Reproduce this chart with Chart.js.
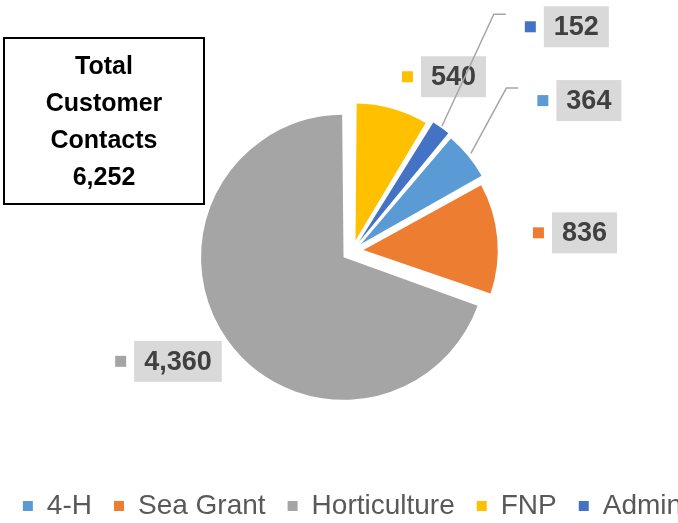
<!DOCTYPE html>
<html>
<head>
<meta charset="utf-8">
<script src="https://cdn.jsdelivr.net/npm/chart.js@4.4.0/dist/chart.umd.min.js"></script>
<style>
    html, body { margin: 0; padding: 0; background: #fff; overflow: hidden; }
    #wrap { width: 678px; height: 523px; overflow: hidden; }
</style>
</head>
<body>
<div id="wrap"><canvas id="contactsPie" width="705" height="530"></canvas></div>
<script>
var programs = ['4-H', 'Sea Grant', 'Horticulture', 'FNP', 'Admin'];
var contacts = [364, 836, 4360, 540, 152];
var sliceColors = ['#5b9bd5', '#ed7d31', '#a5a5a5', '#ffc000', '#4472c4'];
var totalLines = ['Total', 'Customer', 'Contacts'];

// where each value label sits, relative to the outer middle of its slice
var labelShift = [
    { dx: 128, dy: -61, leader: true },
    { dx: 92, dy: -6, leader: false },
    { dx: -60, dy: 29, leader: false },
    { dx: 63, dy: -39, leader: false },
    { dx: 142, dy: -110, leader: true }
];

var fontFamily = '"Liberation Sans", Arial, sans-serif';

var labelsPlugin = {
    id: 'sliceLabels',
    afterDatasetsDraw: function (chart) {
        var ctx = chart.ctx;
        var meta = chart.getDatasetMeta(0);
        ctx.save();
        ctx.font = 'bold 27px ' + fontFamily;
        ctx.textAlign = 'center';
        ctx.textBaseline = 'middle';
        meta.data.forEach(function (arc, i) {
            var mid = (arc.startAngle + arc.endAngle) / 2;
            var r = arc.outerRadius + 9;
            var cx = arc.x + Math.cos(mid) * r + labelShift[i].dx;
            var cy = arc.y + Math.sin(mid) * r + labelShift[i].dy;
            var text = contacts[i].toLocaleString('en-US');
            var w = ctx.measureText(text).width + 20;
            var h = 41;
            var left = cx - w / 2;
            var top = cy - h / 2;

            if (labelShift[i].leader) {
                var sr = arc.outerRadius + 22;
                var ex = left - 38;
                var ey = top + 8;
                ctx.beginPath();
                ctx.moveTo(arc.x + Math.cos(mid) * sr, arc.y + Math.sin(mid) * sr);
                ctx.lineTo(ex - 12, ey);
                ctx.lineTo(ex, ey);
                ctx.strokeStyle = '#a6a6a6';
                ctx.lineWidth = 1.5;
                ctx.stroke();
            }

            ctx.fillStyle = '#d9d9d9';
            ctx.fillRect(left, top, w, h);
            ctx.fillStyle = sliceColors[i];
            ctx.fillRect(left - 19, cy - 5.5, 11, 11);
            ctx.fillStyle = '#404040';
            ctx.fillText(text, cx, cy + 1);
        });

        // total box
        var total = contacts.reduce(function (a, b) { return a + b; }, 0);
        var lines = totalLines.concat([total.toLocaleString('en-US')]);
        ctx.strokeStyle = '#000';
        ctx.lineWidth = 2;
        ctx.strokeRect(4, 38, 200, 166);
        ctx.fillStyle = '#000';
        ctx.font = 'bold 25px ' + fontFamily;
        lines.forEach(function (line, k) {
            ctx.fillText(line, 104, 67 + k * 37);
        });
        ctx.restore();
    }
};

var ctx = document.getElementById('contactsPie').getContext('2d');
var chart = new Chart(ctx, {
    type: 'pie',
    data: {
        labels: programs,
        datasets: [{
            data: contacts,
            backgroundColor: sliceColors,
            borderWidth: 0,
            offset: 44,
            hoverOffset: 0
        }]
    },
    options: {
        responsive: false,
        animation: false,
        rotation: 40,
        radius: 131.5,
        layout: {
            padding: { left: 0, right: 0, top: 32, bottom: 0 }
        },
        plugins: {
            tooltip: { enabled: false },
            legend: {
                display: true,
                position: 'bottom',
                labels: {
                    boxWidth: 10,
                    boxHeight: 10,
                    padding: 22,
                    color: '#595959',
                    font: { family: fontFamily, size: 28 }
                }
            }
        }
    },
    plugins: [labelsPlugin]
});
</script>
</body>
</html>
